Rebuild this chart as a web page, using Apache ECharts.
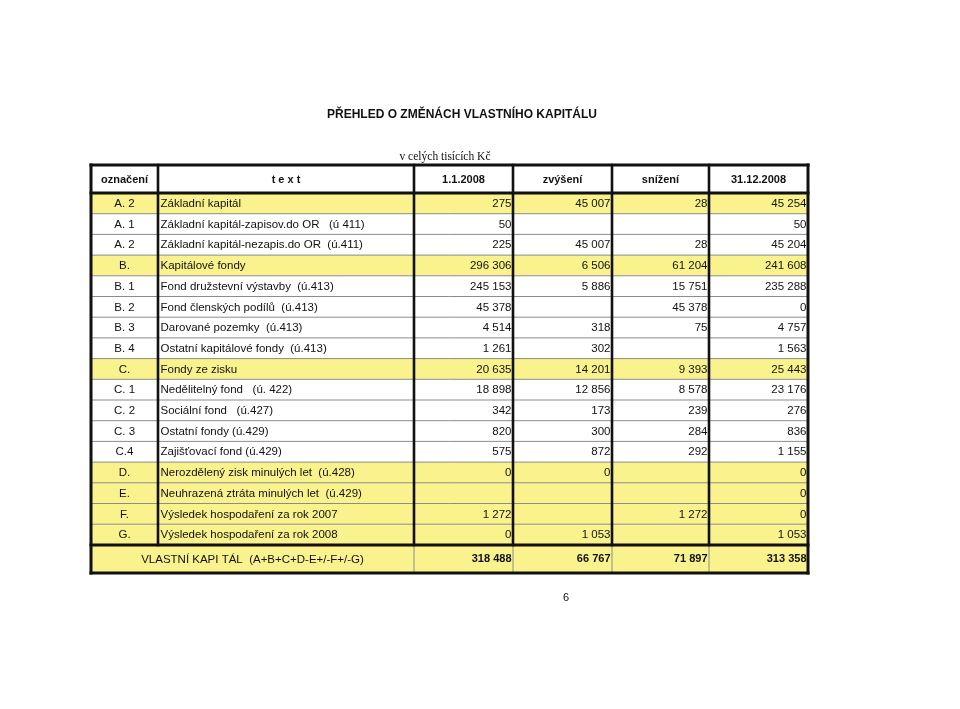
<!DOCTYPE html>
<html><head><meta charset="utf-8">
<script src="https://cdn.jsdelivr.net/npm/echarts@6/dist/echarts.min.js"></script>
<style>html,body{margin:0;padding:0;background:#fff}#c{width:960px;height:709px}</style>
</head><body><div id="c"></div>
<script>
// ---------- data ----------
const headers = ['označení', 't e x t', '1.1.2008', 'zvýšení', 'snížení', '31.12.2008'];
const codes = ['A. 2','A. 1','A. 2','B.','B. 1','B. 2','B. 3','B. 4','C.','C. 1','C. 2','C. 3','C.4','D.','E.','F.','G.'];
const texts = [
  'Základní kapitál',
  'Základní kapitál-zapisov.do OR   (ú 411)',
  'Základní kapitál-nezapis.do OR  (ú.411)',
  'Kapitálové fondy',
  'Fond družstevní výstavby  (ú.413)',
  'Fond členských podílů  (ú.413)',
  'Darované pozemky  (ú.413)',
  'Ostatní kapitálové fondy  (ú.413)',
  'Fondy ze zisku',
  'Nedělitelný fond   (ú. 422)',
  'Sociální fond   (ú.427)',
  'Ostatní fondy (ú.429)',
  'Zajišťovací fond (ú.429)',
  'Nerozdělený zisk minulých let  (ú.428)',
  'Neuhrazená ztráta minulých let  (ú.429)',
  'Výsledek hospodaření za rok 2007',
  'Výsledek hospodaření za rok 2008'
];
const startValues = [275, 50, 225, 296306, 245153, 45378, 4514, 1261, 20635, 18898, 342, 820, 575, 0, null, 1272, 0];
const increases   = [45007, null, 45007, 6506, 5886, null, 318, 302, 14201, 12856, 173, 300, 872, 0, null, null, 1053];
const decreases   = [28, null, 28, 61204, 15751, 45378, 75, null, 9393, 8578, 239, 284, 292, null, null, 1272, null];
const endValues   = [45254, 50, 45204, 241608, 235288, 0, 4757, 1563, 25443, 23176, 276, 836, 1155, 0, 0, 0, 1053];
const highlightedRows = [0, 3, 8, 13, 14, 15, 16];
const totalLabel = 'VLASTNÍ KAPI TÁL  (A+B+C+D-E+/-F+/-G)';
const totalValues = [318488, 66767, 71897, 313358];
const titleText = 'PŘEHLED O ZMĚNÁCH VLASTNÍHO KAPITÁLU';
const unitText = 'v celých tisících Kč';
const pageNumber = '6';

// ---------- layout ----------
const colWidths = [67, 256, 99, 99, 97, 99];
const headerHeight = 28, rowHeight = 20.7, totalHeight = 28.1;
const xEdges = [0]; colWidths.forEach(w => xEdges.push(xEdges[xEdges.length - 1] + w));
const yEdges = [0, headerHeight];
codes.forEach(() => yEdges.push(yEdges[yEdges.length - 1] + rowHeight));
yEdges.push(yEdges[yEdges.length - 1] + totalHeight);
const W = xEdges[xEdges.length - 1], H = yEdges[yEdges.length - 1];
const YELLOW = '#faf38d';
const FONT = 'Liberation Sans, Arial, sans-serif';

function fmt(v) {
  if (v === null || v === undefined) return '';
  return String(v).replace(/\B(?=(\d{3})+(?!\d))/g, ' ');
}

// build cells
const cells = [];
headers.forEach((h, c) => cells.push({c0: c, c1: c + 1, r: 0, text: h, align: 'center', bold: true, size: 11, fill: '#ffffff'}));
codes.forEach((code, i) => {
  const fill = highlightedRows.includes(i) ? YELLOW : '#ffffff';
  const r = i + 1;
  cells.push({c0: 0, c1: 1, r, text: code, align: 'center', fill});
  cells.push({c0: 1, c1: 2, r, text: texts[i], align: 'left', fill});
  [startValues, increases, decreases, endValues].forEach((arr, k) =>
    cells.push({c0: 2 + k, c1: 3 + k, r, text: fmt(arr[i]), align: 'right', fill}));
});
const tr = codes.length + 1;
cells.push({c0: 0, c1: 2, r: tr, text: totalLabel, align: 'center', fill: YELLOW});
totalValues.forEach((v, k) => cells.push({c0: 2 + k, c1: 3 + k, r: tr, text: fmt(v), align: 'right', bold: true, size: 11, fill: YELLOW}));

// build rules (in layout units via edge indices)
const lines = [];
const nC = colWidths.length, nR = yEdges.length - 1;
for (let r = 2; r <= codes.length; r++) lines.push({x: [0, nC], y: [r, r], w: 1, color: '#8c8c8c'});
for (let c = 2; c <= 5; c++) lines.push({x: [c, c], y: [tr, tr + 1], w: 1, color: '#8c8c8c'});
[0, 1, tr, nR].forEach(r => lines.push({x: [0, nC], y: [r, r], w: 3, color: '#111'}));
for (let c = 1; c <= 5; c++) lines.push({x: [c, c], y: [0, tr], w: 2.6, color: '#111'});
[0, nC].forEach(c => lines.push({x: [c, c], y: [0, nR], w: 3, color: '#111'}));

const chart = echarts.init(document.getElementById('c'), null, {renderer: 'canvas'});
chart.setOption({
  backgroundColor: '#ffffff',
  animation: false,
  title: [
    {text: titleText, left: 457, top: 104, textAlign: 'center',
     textStyle: {fontFamily: FONT, fontSize: 12, fontWeight: 'bold', color: '#111'}},
    {text: unitText, left: 440, top: 146, textAlign: 'center',
     textStyle: {fontFamily: 'Liberation Serif, Times New Roman, serif', fontSize: 11.5, fontWeight: 'normal', color: '#111'}},
    {text: pageNumber, left: 561, top: 587, textAlign: 'center',
     textStyle: {fontFamily: FONT, fontSize: 11, fontWeight: 'normal', color: '#111'}}
  ],
  grid: {left: 91, top: 165, width: W, height: H, containLabel: false},
  xAxis: {type: 'value', min: 0, max: W, show: false},
  yAxis: {type: 'value', min: 0, max: H, inverse: true, show: false},
  series: [
    {
      type: 'custom', z: 1, silent: true,
      data: cells.map((c, i) => [i]),
      renderItem: function (params, api) {
        const cell = cells[params.dataIndex];
        const p0 = api.coord([xEdges[cell.c0], yEdges[cell.r]]);
        const p1 = api.coord([xEdges[cell.c1], yEdges[cell.r + 1]]);
        let tx, align = cell.align;
        if (align === 'left') tx = p0[0] + 2.5;
        else if (align === 'right') tx = p1[0] - 1.5;
        else tx = (p0[0] + p1[0]) / 2;
        return {
          type: 'group',
          children: [
            {type: 'rect', shape: {x: p0[0], y: p0[1], width: p1[0] - p0[0], height: p1[1] - p0[1]},
             style: {fill: cell.fill}},
            {type: 'text', style: {x: tx, y: (p0[1] + p1[1]) / 2 + 0.5, text: cell.text, align: align, verticalAlign: 'middle',
              font: (cell.bold ? 'bold ' : '') + (cell.size || 11.5) + 'px ' + FONT, fill: '#111'}}
          ]
        };
      }
    },
    {
      type: 'custom', z: 3, silent: true,
      data: lines.map((l, i) => [i]),
      renderItem: function (params, api) {
        const l = lines[params.dataIndex];
        const a = api.coord([xEdges[l.x[0]], yEdges[l.y[0]]]);
        const b = api.coord([xEdges[l.x[1]], yEdges[l.y[1]]]);
        return {type: 'line', shape: {x1: a[0], y1: a[1], x2: b[0], y2: b[1]},
                style: {stroke: l.color, lineWidth: l.w, lineCap: 'square'}};
      }
    }
  ]
});
</script>
</body></html>
